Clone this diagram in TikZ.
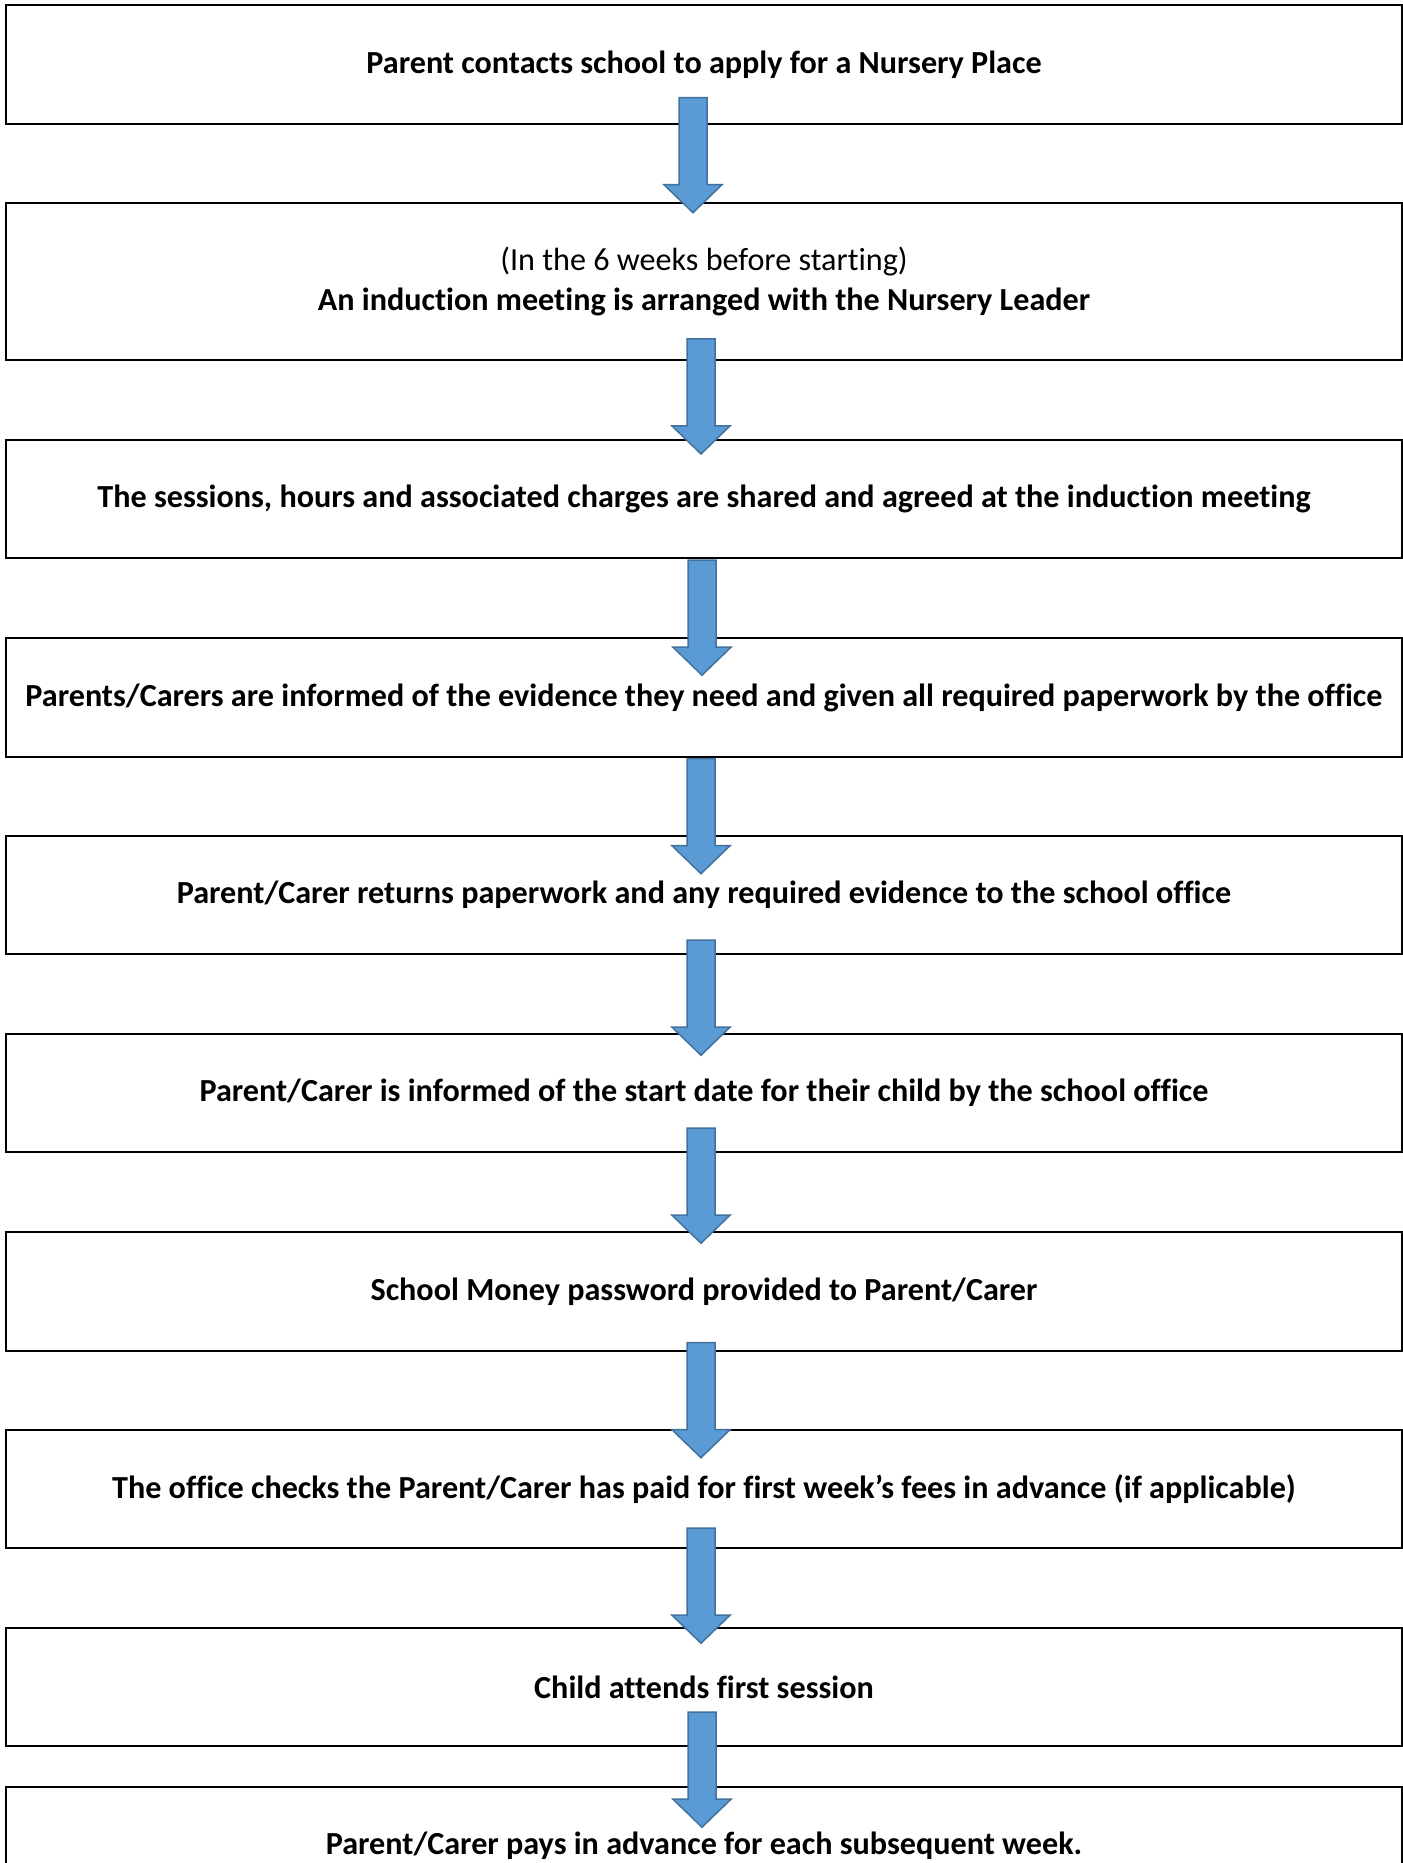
\documentclass[tikz,border=0pt]{standalone}
\usepackage{fontspec}
\setmainfont{Carlito}[Ligatures=NoCommon]
\usetikzlibrary{calc}
\definecolor{arrowfill}{HTML}{5B9BD5}
\definecolor{arrowline}{HTML}{41719C}
\begin{document}
\begin{tikzpicture}[x=0.02cm,y=-0.02cm,
	stage/.style={draw,line width=1.1pt,minimum width=27.92cm,minimum height=#1,inner sep=0pt,
		align=center,font=\fontsize{18.3}{22.7}\selectfont\bfseries},
	stage/.default=2.37cm,
	flowarrow/.pic={\draw[fill=arrowfill,draw=arrowline,line width=0.85pt,line join=miter]
		(-14,0) -- (14,0) -- (14,87) -- (29,87) -- (0,115) -- (-29,87) -- (-14,87) -- cycle;}]
	\useasboundingbox (0,0) rectangle (1403,1863);
	\clip (0,0) rectangle (1403,1863);
	% the stages, top to bottom
	\node[stage] (b1) at (704,64.5) {Parent contacts school to apply for a Nursery Place};
	\node[stage=3.14cm] (b2) at (704,281.5) {\mdseries(In the 6 weeks before starting)\\An induction meeting is arranged with the Nursery Leader};
	\node[stage] (b3) at (704,499) {The sessions, hours and associated charges are shared and agreed at the induction meeting};
	\node[stage] (b4) at (704,697.5) {Parents/Carers are informed of the evidence they need and given all required paperwork by the office};
	\node[stage] (b5) at (704,895) {Parent/Carer returns paperwork and any required evidence to the school office};
	\node[stage] (b6) at (704,1093) {Parent/Carer is informed of the start date for their child by the school office};
	\node[stage] (b7) at (704,1291.5) {School Money password provided to Parent/Carer};
	\node[stage] (b8) at (704,1489) {The office checks the Parent/Carer has paid for first week’s fees in advance (if applicable)};
	\node[stage] (b9) at (704,1687) {Child attends first session};
	\node[stage] (b10) at (704,1846) {Parent/Carer pays in advance for each subsequent week.};
	% block arrows between the stages
	\foreach \b/\dx/\dy in {b1/-11/-27,b2/-3/-22,b3/-2/1,b4/-3/1,b5/-3/-15,b6/-3/-25,b7/-3/-9,b8/-3/-21,b9/-2/-35}
		\pic at ($(\b.south)+(\dx,\dy)$) {flowarrow};
\end{tikzpicture}
\end{document}
